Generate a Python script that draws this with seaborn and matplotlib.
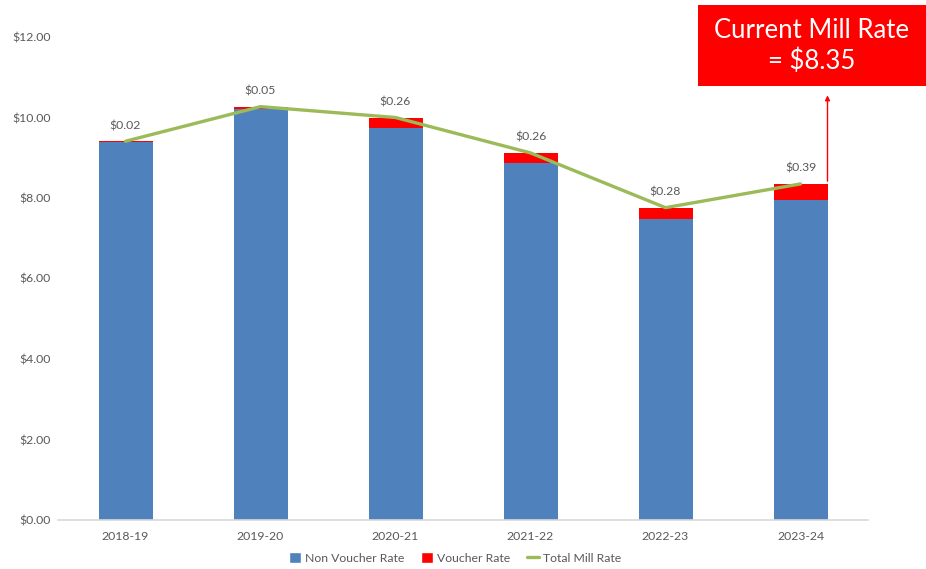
import matplotlib
matplotlib.use("Agg")
import matplotlib.pyplot as plt
import seaborn as sns
import numpy as np
import pandas as pd
from matplotlib.patches import Patch, Rectangle
from matplotlib.lines import Line2D

years = ["2018-19", "2019-20", "2020-21", "2021-22", "2022-23", "2023-24"]
non_voucher = [9.39, 10.22, 9.74, 8.86, 7.48, 7.96]
voucher = [0.02, 0.05, 0.26, 0.26, 0.28, 0.39]
voucher_labels = ["$0.02", "$0.05", "$0.26", "$0.26", "$0.28", "$0.39"]
total = [n + v for n, v in zip(non_voucher, voucher)]
y_ticks = [0, 2, 4, 6, 8, 10, 12]

df = pd.DataFrame({"year": years, "non": non_voucher, "voucher": voucher, "total": total})

sns.set_theme(style="white")
plt.rcParams['font.family'] = ['Lato', 'DejaVu Sans']

BLUE = "#4F81BD"
RED = "#FF0000"
GREEN = "#9BBB59"
GRAY = "#595959"
FS = 8.8

fig = plt.figure(figsize=(9.26, 5.69), dpi=100)
ax = fig.add_axes([58/926, 1-520/569, 810/926, (520-37)/569])

sns.barplot(data=df, x="year", y="total", color=RED, saturation=1, width=0.4, ax=ax, linewidth=0)
sns.barplot(data=df, x="year", y="non", color=BLUE, saturation=1, width=0.4, ax=ax, linewidth=0)
sns.lineplot(data=df, x="year", y="total", color=GREEN, linewidth=2.4, ax=ax, sort=False)

for i, (t, lab) in enumerate(zip(total, voucher_labels)):
    ax.text(i, t + 0.25, lab, ha="center", va="bottom", fontsize=FS, color=GRAY)

ax.set_xlim(-0.5, 5.5)
ax.set_ylim(0, 12)
ax.set_yticks(y_ticks)
ax.set_yticklabels([f"${v:.2f}" for v in y_ticks], fontsize=FS, color=GRAY)
ax.tick_params(axis="x", labelsize=FS, labelcolor=GRAY, pad=8, length=0)
ax.tick_params(axis="y", length=0, pad=5)
ax.set_xlabel("")
ax.set_ylabel("")
for s in ["top", "right", "left"]:
    ax.spines[s].set_visible(False)
ax.spines["bottom"].set_color("#D9D9D9")
ax.spines["bottom"].set_linewidth(1.2)
ax.grid(False)

# annotation arrow and box
ax.annotate("", xy=(5.2, 10.62), xytext=(5.2, total[-1]),
            arrowprops=dict(arrowstyle="-|>", color=RED, lw=1, mutation_scale=7),
            annotation_clip=False)
fig.patches.append(Rectangle((698/926, 1-86/569), 228/926, 81/569,
                             transform=fig.transFigure, facecolor=RED, edgecolor="none"))
fig.text(812/926, 1-46/569, "Current Mill Rate\n= $8.35", ha="center", va="center",
         color="white", fontsize=18.5, linespacing=1.3)

handles = [Patch(facecolor=BLUE, label="Non Voucher Rate"),
           Patch(facecolor=RED, label="Voucher Rate"),
           Line2D([0], [0], color=GREEN, lw=2.4, label="Total Mill Rate")]
if ax.get_legend():
    ax.get_legend().remove()
fig.legend(handles=handles, loc="center", bbox_to_anchor=(455/926, 1-558/569), ncol=3,
           frameon=False, fontsize=FS, handlelength=1.0, handleheight=1.0,
           columnspacing=1.4, handletextpad=0.3, labelcolor=GRAY)

fig.savefig("out.png", dpi=100)
